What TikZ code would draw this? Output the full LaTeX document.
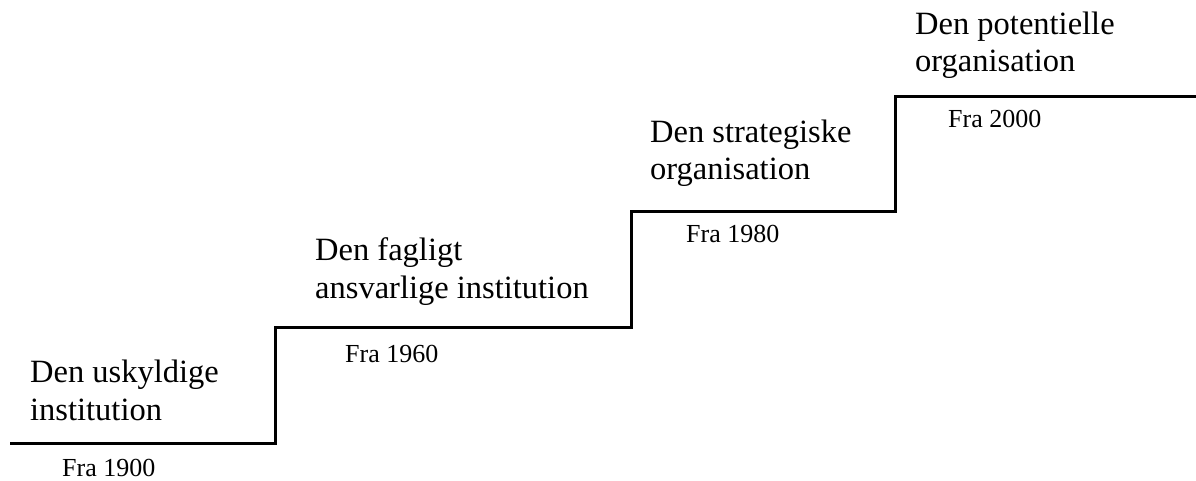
\documentclass[tikz,border=0pt]{standalone}
\usepackage{fontspec}
\setmainfont{Liberation Serif}
\begin{document}
\begin{tikzpicture}[x=1pt,y=-1pt,
  stair/.style={line width=3pt,line join=miter,black},
  stage/.style={anchor=base west,align=left,inner sep=0pt,
    font=\fontsize{32.5}{37.5}\selectfont},
  year/.style={anchor=base west,inner sep=0pt,
    font=\fontsize{26}{30}\selectfont}]
\useasboundingbox (0,0) rectangle (1196,481);
% the staircase
\draw[stair] (10,443) -- (275,443) -- (275,327) -- (631,327)
  -- (631,211) -- (895,211) -- (895,97) -- (1198,97);
% stages (anchored at the baseline of their last line)
\node[stage] (s1) at (30,420) {Den uskyldige\\institution};
\node[stage] (s2) at (315,298) {Den fagligt\\ansvarlige institution};
\node[stage] (s3) at (650,180) {Den strategiske\\organisation};
\node[stage] (s4) at (915,72) {Den potentielle\\organisation};
% years
\node[year] (y1) at (62,476) {Fra 1900};
\node[year] (y2) at (345,362) {Fra 1960};
\node[year] (y3) at (686,242) {Fra 1980};
\node[year] (y4) at (948,128) {Fra 2000};
\end{tikzpicture}
\end{document}
